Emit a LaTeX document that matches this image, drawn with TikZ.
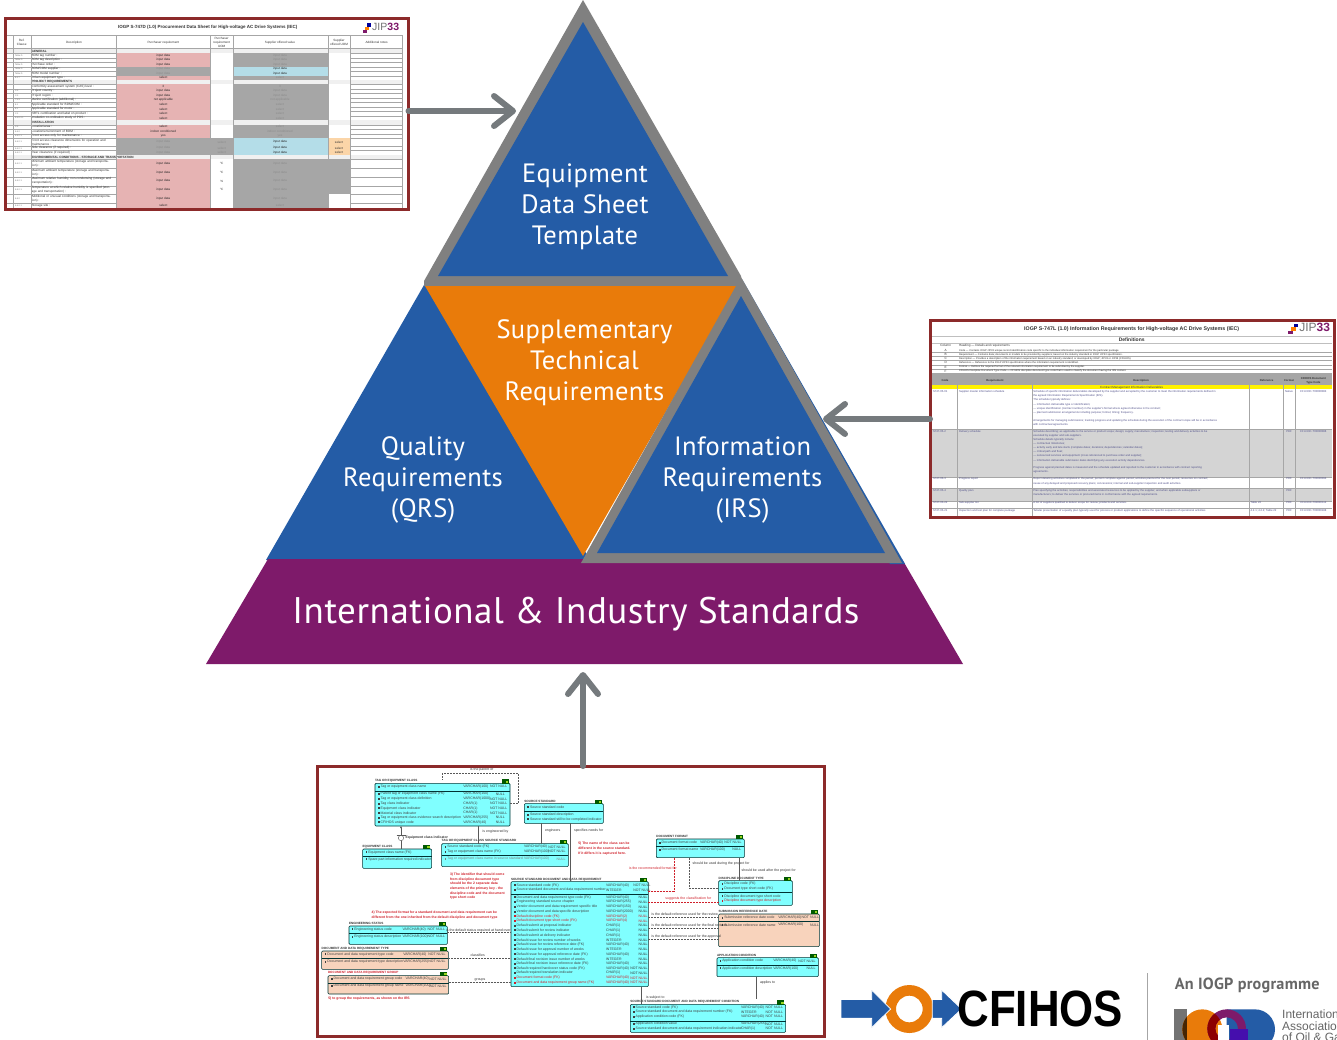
\documentclass[tikz,border=0pt]{standalone}
\usepackage{fontspec}
\setmainfont{PT Sans}
\newfontfamily\din[LetterSpace=1.5]{PT Sans}
\newfontfamily\arial{Liberation Sans}
\usetikzlibrary{fit,calc,arrows.meta}
\definecolor{tblue}{HTML}{245CA6}
\definecolor{tgray}{HTML}{808080}
\definecolor{tor}{HTML}{E97B0A}
\definecolor{tpur}{HTML}{7E1A6A}
\definecolor{fred}{HTML}{8C2A2A}
\definecolor{agray}{HTML}{757A7D}
\definecolor{spink}{HTML}{E6B3B3}
\definecolor{sgray}{HTML}{A6A6A6}
\definecolor{sblue}{HTML}{B4DDE8}
\definecolor{soran}{HTML}{FBD5A8}
\definecolor{ercy}{HTML}{80FFFF}
\definecolor{erpe}{HTML}{F8D3BC}
\definecolor{erred}{HTML}{D0202A}
\definecolor{irtxt}{HTML}{50508A}
\newcount\lblno
\newcommand\lbl[1][]{\lblx{#1}}
\def\lblx#1(#2)#3{\global\advance\lblno by 1 \node[tx,#1] (lbl\the\lblno) at (#2) {#3};}
\def\tmpg{sgray}
\tikzset{
 tx/.style={inner sep=0pt,outer sep=0pt,anchor=west,text=black!80,font=\arial\fontsize{3.1}{4}\selectfont},
 ctr/.style={anchor=center},
 big/.style={text=white,align=center,inner sep=0pt,font=\din\fontsize{26.5}{31}\selectfont},
 frameb/.style={draw=fred,line width=3pt,inner sep=0pt,outer sep=0pt},
 arr/.style={draw=agray,line width=6pt,line cap=round,line join=round,-{Straight Barb[round,length=19pt,width=30pt]}},
 erb/.style={draw=black!60!teal,line width=.6pt,rounded corners=1pt,inner sep=0pt,outer sep=0pt},
 erl/.style={draw=black!60!teal,line width=.4pt},
 conn/.style={draw=black!65,line width=.4pt,dash pattern=on 2pt off 1pt},
 connr/.style={draw=erred,line width=.4pt,dash pattern=on 2pt off 1pt},
 solidc/.style={draw=black!65,line width=.4pt},
 er/.style={font=\arial\fontsize{3.5}{4.6}\selectfont},
 ertitle/.style={font=\arial\bfseries\fontsize{3.1}{4}\selectfont,text=black!80},
 note/.style={font=\arial\bfseries\fontsize{3.4}{4.7}\selectfont,text=erred,align=left},
 grid/.style={draw=black!35,line width=.25pt},
}
% ---- data sheet row
\newcommand\srow[9]{%
 \fill[#4] (348,#1) rectangle (630,#2);
 \fill[#6] (630,#1) rectangle (698,#2);
 \fill[#7] (698,#1) rectangle (983,#2);
 \fill[#9] (983,#1) rectangle (1050,#2);
 \draw[grid] (22,#2) -- (1205,#2);
 \lbl[text width=82pt,align=left]({95},{(#1+#2)/2}){#3}
 \def\tmpa{#4}\ifx\tmpa\tmpg\def\cola{black!45}\else\def\cola{black!85}\fi
 \def\tmpb{#7}\ifx\tmpb\tmpg\def\colb{black!45}\else\def\colb{black!85}\fi
 \lbl[ctr,text=\cola]({490},{(#1+#2)/2}){#5}
 \lbl[ctr,text=\colb]({840},{(#1+#2)/2}){#8}
}
\newcommand\shead[3]{%
 \fill[black!6] (22,#1) rectangle (1205,#2);
 \draw[grid] (22,#2) -- (1205,#2);
 \lbl[font=\arial\bfseries\fontsize{3.1}{4}\selectfont]({95},{(#1+#2)/2}){#3}
}
\newcommand\jip[3]{%
 \lbl[anchor=center,font=\arial\fontsize{#3}{#3}\selectfont,text=black!55](#1,#2){JIP\textcolor{tpur}{\textbf{33}}}
}
% ---- ER
\newcommand\erbox[7]{%
 \coordinate (#1-a) at (#2,#3); \coordinate (#1-b) at (#4,#5);
 \node[erb,fill=#6,fit=(#1-a)(#1-b)] (#1) {};
 \draw[erl] (#2,#7) -- (#4,#7);
 \fill[green!35!black] ({#4-25},{#3-12}) rectangle ({#4-4},{#3+1});
 \fill[yellow!60!green] ({#4-13},{#3-8}) rectangle ({#4-6},{#3-2});
}
\newcommand\erow[8][black!75]{%
 \fill[#1] ({#2-8},{#5-3}) rectangle ({#2-3},{#5+3});
 \lbl[er,text=#1](#2,#5){#6}
 \lbl[er,text=#1](#3,#5){#7}
 \lbl[er,text=#1](#4,#5){#8}
}
\begin{document}
\begin{tikzpicture}[x=1pt,y=-1pt]
\useasboundingbox (0,0) rectangle (1337,1039);
\clip (0,0) rectangle (1337,1039);
\fill[white] (0,0) rectangle (1337,1039);

% ================= pyramid
\fill[tblue] (424,285) -- (266,560) -- (590,560) -- (432,285) -- cycle;
\fill[tgray] (583,0) -- (741,276) -- (741,286) -- (424,286) -- (424,281) -- cycle;
\fill[tblue] (583,22) -- (438,276) -- (728,276) -- cycle;
\fill[tor] (425,286) -- (738,286) -- (583,556) -- cycle;
\fill[tpur] (268,559) -- (902,559) -- (963,664) -- (206,664) -- cycle;
\fill[tblue] (742,279) -- (905,564) -- (890,564) -- cycle;
\fill[tgray] (741,277) -- (902,563) -- (581,563) -- cycle;
\fill[tblue] (741,296) -- (885,553) -- (597,553) -- cycle;

\node[big] (eq) at (585,207) {Equipment\\Data Sheet\\Template};
\node[big] (st) at (584.5,362.5) {Supplementary\\Technical\\Requirements};
\node[big] (qr) at (423,480) {Quality\\Requirements\\(QRS)};
\node[big] (ir) at (742.5,480) {Information\\Requirements\\(IRS)};
\node[big,font=\din\fontsize{37}{40}\selectfont] (is) at (576,614) {International \& Industry Standards};

% ================= sheet A
\coordinate (sa1) at (5,18.5); \coordinate (sa2) at (408.5,209);
\begin{scope}[shift={(0,10)},x=.33333pt,y=-.33333pt]
\lbl[ctr,font=\arial\bfseries\fontsize{4.5}{5}\selectfont](623,53){IOGP S-747D (1.0) Procurement Data Sheet for High-voltage AC Drive Systems (IEC)}
\jip{1157}{52}{10.5}
\fill[orange] (1095,50) rectangle (1107,60); \fill[blue!60!black] (1102,40) rectangle (1114,50); \fill[tpur] (1088,60) rectangle (1100,70);
\draw[grid] (22,75) -- (1205,75); \draw[grid] (22,115) -- (1205,115);
\lbl[ctr,align=center](65,97){Ref.\\Clause}
\lbl[ctr](222,97){Description}
\lbl[ctr](490,97){Purchaser requirement}
\lbl[ctr,align=center](665,97){Purchaser\\requirement\\UOM}
\lbl[ctr](840,97){Supplier offered value}
\lbl[ctr,align=center](1017,97){Supplier\\offered UOM}
\lbl[ctr](1130,97){Additional notes}
\shead{117}{130}{GENERAL}
\srow{130}{144}{BOM tag number :}{spink}{input data}{white}{sgray}{input data}{white}
\srow{144}{157}{BOM tag description :}{spink}{input data}{white}{sgray}{input data}{white}
\srow{157}{170}{Purchase order :}{spink}{input data}{white}{sgray}{input data}{white}
\srow{170}{184}{BOM/COM supplier :}{sgray}{input data}{white}{sblue}{input data}{white}
\srow{184}{197}{BOM model number :}{sgray}{input data}{white}{sblue}{input data}{white}
\srow{197}{210}{Driven equipment type :}{spink}{select}{white}{sgray}{select}{white}
\shead{210}{223}{PROJECT REQUIREMENTS}
\srow{223}{237}{Conformity assessment system (CAS) level :}{spink}{3}{white}{sgray}{3}{white}
\srow{237}{250}{Project country :}{spink}{input data}{white}{sgray}{input data}{white}
\srow{250}{264}{Project region :}{spink}{input data}{white}{sgray}{input data}{white}
\srow{264}{277}{Marine certification (additional) :}{spink}{not applicable}{white}{sgray}{not applicable}{white}
\srow{277}{291}{Applicable standard for BDM/COM :}{spink}{select}{white}{sgray}{select}{white}
\srow{291}{304}{Applicable standard for motor :}{spink}{select}{white}{sgray}{select}{white}
\srow{304}{317}{NRTL certification and label on product :}{spink}{select}{white}{sgray}{select}{white}
\srow{317}{331}{Insulation co-ordination study of PDS :}{spink}{select}{white}{sgray}{select}{white}
\shead{331}{344}{INSTALLATION}
\srow{344}{357}{Location/area :}{spink}{select}{white}{sgray}{select}{white}
\srow{357}{371}{Location/environment of BDM :}{spink}{indoor conditioned}{white}{sgray}{indoor conditioned}{white}
\srow{371}{384}{Front access only for maintenance :}{spink}{yes}{white}{sgray}{yes}{white}
\srow{384}{408}{Front access clearance dimensions for operation and maintenance :}{sgray}{input data}{sgray}{sblue}{input data}{soran}
\srow{408}{421}{Side clearance (if required) :}{sgray}{input data}{sgray}{sblue}{input data}{soran}
\srow{421}{434}{Rear clearance (if required) :}{sgray}{input data}{sgray}{sblue}{input data}{soran}
\lbl[ctr,text=black!45](665,396){select}\lbl[ctr,text=black!45](665,415){select}\lbl[ctr,text=black!45](665,428){select}
\lbl[ctr](1017,396){select}\lbl[ctr](1017,415){select}\lbl[ctr](1017,428){select}
\shead{434}{448}{ENVIRONMENTAL CONDITIONS - STORAGE AND TRANSPORTATION}
\srow{448}{475}{Minimum ambient temperature (storage and transportation) :}{spink}{input data}{white}{sgray}{input data}{sgray}
\srow{475}{500}{Maximum ambient temperature (storage and transportation) :}{spink}{input data}{white}{sgray}{input data}{sgray}
\srow{500}{527}{Maximum relative humidity, non-condensing (storage and transportation) :}{spink}{input data}{white}{sgray}{input data}{sgray}
\srow{527}{552}{Temperature at which relative humidity is specified (storage and transportation) :}{spink}{input data}{white}{sgray}{input data}{sgray}
\srow{552}{578}{Additional or unusual conditions (storage and transportation) :}{spink}{input data}{white}{sgray}{input data}{white}
\srow{578}{595}{Storage site :}{spink}{select}{white}{sgray}{select}{white}
\lbl[ctr](665,461){°C}\lbl[ctr](665,487){°C}\lbl[ctr](665,513){\%}\lbl[ctr](665,539){°C}
\foreach \xx in {40,93,348,630,698,983,1050,1205}{\draw[grid] (\xx,75) -- (\xx,595);}
\foreach \yy/\cl in {137/Table D,150/Table D,163/Table D,177/Table D,190/Table D,204/8.2.7,243/C.3,257/C.3,270/7.5.3,284/8.1,297/8.1,310/C.2,324/6.6.6.2.1,350/C.3,364/6.6.2,378/6.6.2.1,396/6.6.2.1,415/6.6.2.1,428/6.6.2.1,461/6.6.2.1,487/6.6.2.1,513/6.6.2.1,539/6.6.2.1,565/6.6.2,587/6.6.2.1}{\lbl[font=\arial\fontsize{2.2}{3}\selectfont,text=black!55](45,\yy){\cl}}
\end{scope}
\node[frameb,fit=(sa1)(sa2)] (sheetA) {};

% ================= sheet B
\coordinate (sb1) at (930,320); \coordinate (sb2) at (1334,517);
\begin{scope}[shift={(925,315)},x=.33333pt,y=-.33333pt]
\lbl[ctr,font=\arial\bfseries\fontsize{5.3}{6}\selectfont](620,42){IOGP S-747L (1.0) Information Requirements for High-voltage AC Drive Systems (IEC)}
\jip{1169}{38}{12}
\fill[orange] (1098,37) rectangle (1112,48); \fill[blue!60!black] (1106,26) rectangle (1120,37); \fill[tpur] (1090,48) rectangle (1103,58);
\fill[black!25] (22,63) rectangle (1220,66);
\lbl[ctr,font=\arial\bfseries\fontsize{5}{6}\selectfont](620,75){Definitions}
\fill[black!25] (22,84) rectangle (1220,87);
\lbl[ctr](62,92){Column}
\lbl(102,92){Heading — Details and requirements}
\foreach \yy/\cc/\cl in {
 106/A/Code — Contains IOGP JIP33 unique record identification code specific to the individual information requirement for the particular package.,
 118/B/Requirement — Contains data; documents or models to be provided by suppliers; based on the industry standard or IOGP JIP33 specification.,
 130/C/Description — Provides a description of the information requirement based on an industry standard; or developed by IOGP; JIP33 or JIP36 (CFIHOS).,
 143/D/Reference — Reference to the IOGP JIP33 specification where the information requirement is identified.,
 156/E/Format — Defines the required format of the relevant information requirement to be submitted by the supplier.,
 168/F/CFIHOS Discipline Document Type Code — CFIHOS discipline document type code that is used to classify the document having the IRS content.}{
 \lbl[ctr](62,\yy){\cc}
 \lbl[font=\arial\fontsize{2.6}{3}\selectfont](102,\yy){\cl}
 \draw[grid] (22,{\yy+6}) -- (1220,{\yy+6});
}
\fill[sgray] (22,174) rectangle (1220,211);
\fill[yellow] (22,211) rectangle (1220,223);
\fill[black!17] (22,342) rectangle (1220,485);
\fill[black!17] (22,518) rectangle (1220,558);
\foreach \xx/\cl in {60/Code,210/Requirement,648/Description,1025/Reference,1092/Format,1165/CFIHOS Document\\Type Code}{\lbl[ctr,align=center,font=\arial\bfseries\fontsize{2.8}{3.6}\selectfont](\xx,197){\cl}}
\lbl[ctr,font=\arial\fontsize{3}{4}\selectfont,text=black!75](620,217){Contract Management Information Deliverables}
\foreach \xx in {97,322,973,1075,1110}{\draw[grid] (\xx,174) -- (\xx,606);}
\draw[grid] (22,342) -- (1220,342); \draw[grid] (22,485) -- (1220,485); \draw[grid] (22,518) -- (1220,518); \draw[grid] (22,558) -- (1220,558); \draw[grid] (22,578) -- (1220,578);
\tikzset{irt/.style={text=irtxt,font=\arial\fontsize{2.75}{3.3}\selectfont}}
\lbl[irt](24,231){S747-05-01}\lbl[irt](102,231){Supplier master information schedule}
\lbl[irt](24,350){S747-05-2}\lbl[irt](102,350){Delivery schedule}
\lbl[irt](24,492){S747-05-3}\lbl[irt](102,492){Progress report}
\lbl[irt](24,526){S747-05-4}\lbl[irt](102,526){Quality plan}
\lbl[irt](24,563){S747-05-22}\lbl[irt](102,563){Sub-supplier list}
\lbl[irt](24,587){S747-05-21}\lbl[irt](102,587){Inspection and test plan for complete package}
\foreach \yy/\cl in {
 231/Schedule of specific information deliverables developed by the supplier and accepted by the customer to meet the information requirements defined in,
 243/the agreed Information Requirements Specification (IRS).,
 255/The schedule typically defines:,
 268/— information deliverable type or identification;,
 281/— unique identification (contract number) in the supplier's format where agreed otherwise in the contract;,
 294/— planned submission arrangements including purpose; format; timing; frequency.,
 316/Arrangements for managing submissions; tracking progress and updating the schedule during the execution of the contract scope will be in accordance,
 329/with contractual agreements.,
 350/Schedule describing; as applicable to the service or product scope; design; supply; manufacture; inspection; testing and delivery activities to be,
 362/executed by supplier and sub-suppliers.,
 374/Schedule details typically include:,
 386/— contractual milestones;,
 398/— activity early and late starts (complete dates; durations; dependencies; calendar dates);,
 411/— critical path and float;,
 423/— outsourced services and equipment (cross referenced to purchase order and supplier);,
 436/— information deliverable submission dates identifying any execution activity dependencies.,
 459/Progress against planned dates is measured and the schedule updated and reported to the customer in accordance with contract reporting,
 472/agreements.,
 492/Report detailing activities completed in the period; percent complete against period; activities planned for the next period; resources on contract;,
 505/cause of any delayed and proposed recovery plans; concessions; internal and sub-supplier inspection and audit activities.,
 526/Plan specifying the activities; responsibilities and associated resources to be applied by the supplier; and when applicable subsuppliers or,
 540/manufacturers; to deliver the services or procured items in conformance with the agreed requirements.,
 563/A list of suppliers qualified to deliver scope for review; products and services.,
 587/Tabular presentation of a quality plan typically used for process or product applications to define the specific sequence of operational activities}{
 \lbl[irt](325,\yy){\cl}
}
\foreach \yy/\aa/\bb in {231/Native/CFI-DOC-T00000083,350/PDF/CFI-DOC-T00000086,492/PDF/CFI-DOC-T00000093,563/PDF/CFI-DOC-T00000112,587/PDF/CFI-DOC-T00000188}{\lbl[irt,ctr](1092,\yy){\aa}\lbl[irt,ctr](1165,\yy){\bb}}
\lbl[irt,ctr](1092,526){PDF}
\lbl[irt](977,563){Table 22}\lbl[irt](977,587){4.2.1; 4.2.2; Table 22}
\end{scope}
\node[frameb,fit=(sb1)(sb2)] (sheetB) {};

% ================= ER diagram
\coordinate (ef1) at (317,766); \coordinate (ef2) at (824,1036);
\begin{scope}[shift={(315,760)},x=.33333pt,y=-.33333pt]
% boxes
\erbox{tag}{180}{70}{585}{198}{ercy}{93}
\erbox{src}{628}{131}{865}{190}{ercy}{155}
\erbox{eqc}{143}{267}{350}{325}{ercy}{290}
\erbox{tss}{380}{251}{760}{320}{ercy}{285}
\erbox{fmt}{1024}{237}{1288}{293}{ercy}{260}
\erbox{dis}{1211}{362}{1432}{436}{ercy}{398}
\erbox{sub}{1211}{462}{1513}{560}{erpe}{485}
\erbox{app}{1206}{593}{1510}{650}{ercy}{615}
\erbox{mn}{588}{365}{1000}{680}{ercy}{402}
\erbox{eng}{102}{498}{397}{553}{ercy}{520}
\erbox{typ}{20}{573}{400}{628}{erpe}{595}
\erbox{grp}{39}{647}{401}{702}{erpe}{669}
\erbox{cnd}{946}{733}{1412}{817}{ercy}{783}
% titles
\lbl[ertitle](180,62){TAG OR EQUIPMENT CLASS}
\lbl[ertitle](628,125){SOURCE STANDARD}
\lbl[ertitle](143,260){EQUIPMENT CLASS}
\lbl[ertitle](380,243){TAG OR EQUIPMENT CLASS SOURCE STANDARD}
\lbl[ertitle](1024,230){DOCUMENT FORMAT}
\lbl[ertitle](1211,355){DISCIPLINE DOCUMENT TYPE}
\lbl[ertitle](1211,455){SUBMISSION REFERENCE DATE}
\lbl[ertitle](1206,586){APPLICATION CONDITION}
\lbl[ertitle](588,358){SOURCE STANDARD DOCUMENT AND DATA REQUIREMENT}
\lbl[ertitle](102,491){ENGINEERING STATUS}
\lbl[ertitle](20,566){DOCUMENT AND DATA REQUIREMENT TYPE}
\lbl[ertitle,text=erred](39,639){DOCUMENT AND DATA REQUIREMENT GROUP}
\lbl[ertitle](946,724){SOURCE STANDARD DOCUMENT AND DATA REQUIREMENT CONDITION}
% fields
\erow{197}{445}{525}{80}{Tag or equipment class name}{VARCHAR(100)}{NOT NULL}
\erow{197}{445}{525}{102}{Parent tag or equipment class name (FK)}{VARCHAR(100)}{\ \ \ \ \ \ NULL}
\erow{197}{445}{525}{117}{Tag or equipment class definition}{VARCHAR(1000)}{NOT NULL}
\erow{197}{445}{525}{131}{Tag class indicator}{CHAR(1)}{NOT NULL}
\erow{197}{445}{525}{145}{Equipment class indicator}{CHAR(1)}{NOT NULL}
\erow{197}{445}{525}{159}{Material class indicator}{CHAR(1)}{NOT NULL}
\erow{197}{445}{525}{173}{Tag or equipment class evidence search description}{VARCHAR(255)}{\ \ \ \ \ \ NULL}
\erow{197}{445}{525}{187}{CFIHOS unique code}{VARCHAR(40)}{\ \ \ \ \ \ NULL}
\erow{645}{862}{862}{142}{Source standard code}{}{}
\erow{645}{862}{862}{164}{Source standard description}{}{}
\erow{645}{862}{862}{178}{Source standard still to be completed indicator}{}{}
\erow{160}{348}{348}{277}{Equipment class name (FK)}{}{}
\erow{160}{348}{348}{298}{Spare part information required indicator}{}{}
\erow{397}{627}{700}{261}{Source standard code (FK)}{VARCHAR(40)}{NOT NULL}
\erow{397}{627}{700}{275}{Tag or equipment class name (FK)}{VARCHAR(100)}{NOT NULL}
\erow[black!50]{397}{627}{725}{297}{Tag or equipment class name in source standard}{VARCHAR(100)}{NULL}
\erow{1040}{1155}{1228}{248}{Document format code}{VARCHAR(40)}{NOT NULL}
\erow{1040}{1155}{1252}{269}{Document format name}{VARCHAR(100)}{NULL}
\erow{1228}{1432}{1432}{372}{Discipline code (FK)}{}{}
\erow{1228}{1432}{1432}{386}{Document type short code (FK)}{}{}
\erow{1228}{1432}{1432}{409}{Discipline document type short code}{}{}
\erow[erred]{1228}{1432}{1432}{423}{Discipline document type description}{}{}
\erow{1228}{1390}{1460}{473}{Submission reference date code}{VARCHAR(40)}{NOT NULL}
\erow{1228}{1390}{1485}{495}{Submission reference date name}{VARCHAR(100)}{NULL}
\erow{1222}{1375}{1450}{603}{Application condition code}{VARCHAR(40)}{NOT NULL}
\erow{1222}{1375}{1475}{625}{Application condition description}{VARCHAR(100)}{NULL}
\erow{605}{873}{955}{376}{Source standard code (FK)}{VARCHAR(40)}{NOT NULL}
\erow{605}{873}{955}{390}{Source standard document and data requirement number}{INTEGER}{NOT NULL}
\foreach \ii/\aa/\bb/\cc in {
 0/Document and data requirement type code (FK)/VARCHAR(40)/NULL,
 1/Engineering standard source chapter/VARCHAR(255)/NULL,
 2/Vendor document and data requirement specific title/VARCHAR(150)/NULL,
 3/Vendor document and data specific description/VARCHAR(2000)/NULL,
 6/Default submit at proposal indicator/CHAR(1)/NULL,
 7/Default submit for review indicator/CHAR(1)/NULL,
 8/Default submit at delivery indicator/CHAR(1)/NULL,
 9/Default issue for review number of weeks/INTEGER/NULL,
 10/Default issue for review reference date (FK)/VARCHAR(40)/NULL,
 11/Default issue for approval number of weeks/INTEGER/NULL,
 12/Default issue for approval reference date (FK)/VARCHAR(40)/NULL,
 13/Default final revision issue number of weeks/INTEGER/NULL,
 14/Default final revision issue reference date (FK)/VARCHAR(40)/NULL,
 15/Default required hardcover status code (FK)/VARCHAR(40)/NOT NULL,
 16/Default required translation indicator/CHAR(1)/NOT NULL}{
 \pgfmathsetmacro\yy{412+14.2*\ii}
 \erow{605}{873}{980}{\yy}{\aa}{\bb}{}
 \lbl[er,anchor=east](998,\yy){\cc}
}
\foreach \ii/\aa/\bb/\cc in {
 4/Default discipline code (FK)/VARCHAR(2)/NULL,
 5/Default document type short code (FK)/VARCHAR(4)/NULL,
 17/Document format code (FK)/VARCHAR(40)/NOT NULL,
 18/Document and data requirement group name (FK)/VARCHAR(40)/NOT NULL}{
 \pgfmathsetmacro\yy{412+14.2*\ii}
 \erow[erred]{605}{873}{980}{\yy}{\aa}{\bb}{}
 \lbl[er,anchor=east,text=erred](998,\yy){\cc}
}
\erow{118}{263}{338}{508}{Engineering status code}{VARCHAR(40)}{NOT NULL}
\erow{118}{263}{338}{530}{Engineering status description}{VARCHAR(100)}{NOT NULL}
\erow{37}{265}{340}{583}{Document and data requirement type code}{VARCHAR(40)}{NOT NULL}
\erow{37}{265}{340}{605}{Document and data requirement type description}{VARCHAR(255)}{NOT NULL}
\erow{56}{272}{343}{657}{Document and data requirement group code}{VARCHAR(40)}{NOT NULL}
\erow{56}{272}{343}{678}{Document and data requirement group name}{VARCHAR(100)}{NOT NULL}
\erow{962}{1278}{1352}{742}{Source standard code (FK)}{VARCHAR(40)}{NOT NULL}
\erow{962}{1278}{1352}{756}{Source standard document and data requirement number (FK)}{INTEGER}{NOT NULL}
\erow{962}{1278}{1352}{770}{Application condition code (FK)}{VARCHAR(40)}{NOT NULL}
\erow{962}{1278}{1352}{792}{Application condition value}{VARCHAR(255)}{NOT NULL}
\erow{962}{1278}{1352}{806}{Source standard document and data requirement indication indicator}{CHAR(1)}{NOT NULL}
% connectors
\coordinate (tagtop) at (382,58);
\draw[conn] (tag.east |- 0,130) -- (610,130) -- (610,40) -- (382,40) -- (tagtop);
\lbl[ctr,er](500,30){is the parent of}
\draw[solidc,-{Latex[length=2pt,width=2pt]}] (258,0 |- eqc.north) -- (258,0 |- tag.south);
\draw[solidc,fill=white] (258,234) circle (8);
\draw[solidc] (245,225) -- (272,225);
\lbl[er,font=\arial\bfseries\fontsize{3.4}{4}\selectfont](272,234){Equipment class indicator}
\draw[solidc] (491,0 |- tag.south) -- (491,0 |- tss.north);
\lbl[er](503,215){is engineered by}
\draw[solidc] (678,0 |- src.south) -- (678,0 |- tss.north);
\lbl[er](690,211){engineers}
\draw[solidc,-{Latex[length=2pt,width=2pt]}] (767,0 |- src.south) -- (767,0 |- mn.north);
\lbl[er](777,211){specifies needs for}
\draw[connr] (1077,0 |- fmt.south) -- (1077,393) -- (mn.east |- 0,393);
\lbl[er,text=erred,anchor=east](1085,325){is the recommended format for}
\draw[conn] (1124,0 |- fmt.south) -- (1124,386) -- (dis.west |- 0,386);
\lbl[er](1133,310){should be used during the project for}
\draw[solidc] (1272,0 |- fmt.south) -- (1272,0 |- dis.north);
\lbl[er](1280,331){should be used after the project for}
\draw[connr] (dis.west |- 0,427) -- (mn.east |- 0,427);
\lbl[er,text=erred,ctr](1120,416){suggests the classification for}
\draw[conn] (sub.west |- 0,472) -- (mn.east |- 0,472);
\draw[conn] (sub.west |- 0,505) -- (mn.east |- 0,505);
\draw[conn] (sub.west |- 0,538) -- (mn.east |- 0,538);
\lbl[er](1010,464){is the default reference used for the review}
\lbl[er](1010,497){is the default reference used for the final revision}
\lbl[er](1010,530){is the default reference used for the approval}
\draw[conn] (eng.east |- 0,518) -- (mn.west |- 0,518);
\lbl[er,ctr](490,511){is the default status required at hand over}
\draw[conn] (typ.east |- 0,594) -- (mn.west |- 0,594);
\lbl[er,ctr](488,586){classifies}
\draw[conn] (grp.east |- 0,666) -- (mn.west |- 0,666);
\lbl[er,ctr](495,660){groups}
\draw[solidc] (1324,0 |- app.south) -- (1324,717);
\lbl[er](1335,667){applies to}
\draw[solidc] (979,0 |- mn.south) -- (979,0 |- cnd.north);
\lbl[er](993,713){is subject to}
% notes
\lbl[note](790,266){5) The name of the class can be\\different in the source standard.\\If it differs it is captured here.}
\lbl[note](405,379){3) The identifier that should come\\from discipline document type\\should be the 2 separate data\\elements of the primary key - the\\discipline code and the document\\type short code}
\lbl[note](170,466){4) The expected format for a standard document and data requirement can be\\different from the one inherited from the default discipline and document type}
\lbl[note](40,716){5) to group the requirements, as shown on the IRS}
\end{scope}
\node[frameb,fit=(ef1)(ef2)] (erframe) {};

% ================= arrows
\coordinate (t1) at (516,111);
\coordinate (t2) at (823,419);
\coordinate (t3) at (583,672);
\draw[arr] (sheetA.east |- t1) -- (t1);
\draw[arr] (sheetB.west |- t2) -- (t2);
\draw[arr] (erframe.north -| t3) -- (t3);

% ================= logos
\begin{scope}[shift={(830,960)},x=.33333pt,y=-.33333pt]
\fill[tor,even odd rule] (238,147) circle (72) (238,147) circle (40);
\fill[tblue,draw=white,line width=.8pt] (33,118) -- (125,118) -- (125,90) -- (182,147) -- (125,203) -- (125,175) -- (33,175) -- cycle;
\fill[tblue,draw=white,line width=.8pt] (307,118) -- (335,118) -- (335,90) -- (395,147) -- (335,203) -- (335,175) -- (307,175) -- cycle;
\node[inner sep=0pt,text=black,font=\arial\bfseries\fontsize{51}{51}\selectfont,xscale=.86,anchor=center] (cf) at (631,146) {CFIHOS};
\draw[black!35,line width=1.3pt] (953,40) -- (953,240);
\node[inner sep=0pt,anchor=west,text=black!60,font=\din\bfseries\fontsize{16.2}{18}\selectfont] (iogp) at (1034,77) {An IOGP programme};
% IOGP mark
\fill[black!55] (1033,148) rectangle (1070,245);
\fill[tblue] (1190,148) -- (1275,148) arc (-90:90:60) -- (1190,268) -- cycle;
\fill[tor] (1117,208) circle (60);
\begin{scope}
 \clip (1117,208) circle (60);
 \fill[black!70!tor] (1033,148) rectangle (1070,245);
\end{scope}
\fill[tpur,even odd rule] (1190,206) circle (58) (1190,206) circle (34);
\begin{scope}
 \clip (1117,208) circle (60);
 \fill[black!45!red,even odd rule] (1190,206) circle (58) (1190,206) circle (34);
\end{scope}
\fill[white] (1165,195) rectangle (1198,245);
\fill[blue!45!tpur] (1200,207) rectangle (1255,245);
\node[inner sep=0pt,anchor=north west,align=left,text=black!60,font=\arial\fontsize{12}{11.5}\selectfont] (iogpn) at (1356,150) {International\\Association\\of Oil \& Gas Producers};
\end{scope}
\end{tikzpicture}
\end{document}
